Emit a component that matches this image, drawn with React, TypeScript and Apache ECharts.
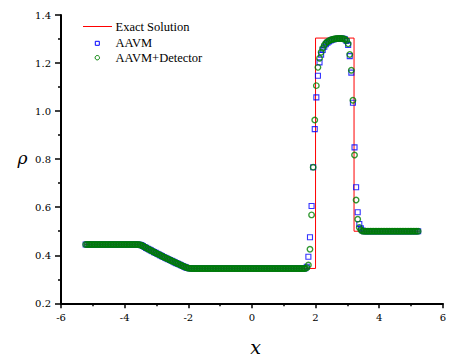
import React, { useEffect, useRef } from "react";
import * as echarts from "echarts";

// Mesh points of the numerical solution (cell centres)
const meshX = [
  -5.225, -5.175, -5.125, -5.075, -5.025, -4.975, -4.925, -4.875, -4.825, -4.775,
  -4.725, -4.675, -4.625, -4.575, -4.525, -4.475, -4.425, -4.375, -4.325, -4.275,
  -4.225, -4.175, -4.125, -4.075, -4.025, -3.975, -3.925, -3.875, -3.825, -3.775,
  -3.725, -3.675, -3.625, -3.575, -3.525, -3.475, -3.425, -3.375, -3.325, -3.275,
  -3.225, -3.175, -3.125, -3.075, -3.025, -2.975, -2.925, -2.875, -2.825, -2.775,
  -2.725, -2.675, -2.625, -2.575, -2.525, -2.475, -2.425, -2.375, -2.325, -2.275,
  -2.225, -2.175, -2.125, -2.075, -2.025, -1.975, -1.925, -1.875, -1.825, -1.775,
  -1.725, -1.675, -1.625, -1.575, -1.525, -1.475, -1.425, -1.375, -1.325, -1.275,
  -1.225, -1.175, -1.125, -1.075, -1.025, -0.975, -0.925, -0.875, -0.825, -0.775,
  -0.725, -0.675, -0.625, -0.575, -0.525, -0.475, -0.425, -0.375, -0.325, -0.275,
  -0.225, -0.175, -0.125, -0.075, -0.025, 0.025, 0.075, 0.125, 0.175, 0.225,
  0.275, 0.325, 0.375, 0.425, 0.475, 0.525, 0.575, 0.625, 0.675, 0.725,
  0.775, 0.825, 0.875, 0.925, 0.975, 1.025, 1.075, 1.125, 1.175, 1.225,
  1.275, 1.325, 1.375, 1.425, 1.475, 1.525, 1.575, 1.625, 1.675, 1.725,
  1.775, 1.825, 1.875, 1.925, 1.975, 2.025, 2.075, 2.125, 2.175, 2.225,
  2.275, 2.325, 2.375, 2.425, 2.475, 2.525, 2.575, 2.625, 2.675, 2.725,
  2.775, 2.825, 2.875, 2.925, 2.975, 3.025, 3.075, 3.125, 3.175, 3.225,
  3.275, 3.325, 3.375, 3.425, 3.475, 3.525, 3.575, 3.625, 3.675, 3.725,
  3.775, 3.825, 3.875, 3.925, 3.975, 4.025, 4.075, 4.125, 4.175, 4.225,
  4.275, 4.325, 4.375, 4.425, 4.475, 4.525, 4.575, 4.625, 4.675, 4.725,
  4.775, 4.825, 4.875, 4.925, 4.975, 5.025, 5.075, 5.125, 5.175, 5.225,
];

// Density on the first 130 mesh points (identical for both schemes)
const sharedRho = [
  0.445, 0.445, 0.445, 0.445, 0.445, 0.445, 0.445, 0.445, 0.445, 0.445,
  0.445, 0.445, 0.445, 0.445, 0.445, 0.445, 0.445, 0.445, 0.445, 0.445,
  0.445, 0.445, 0.445, 0.445, 0.445, 0.445, 0.445, 0.445, 0.445, 0.445,
  0.445, 0.445, 0.445, 0.4447, 0.4438, 0.442, 0.4382, 0.4344, 0.4308, 0.4273,
  0.4237, 0.4202, 0.4167, 0.4132, 0.4098, 0.4064, 0.403, 0.3996, 0.3963, 0.393,
  0.3897, 0.3865, 0.3832, 0.38, 0.3768, 0.3737, 0.3705, 0.3674, 0.3644, 0.3613,
  0.3583, 0.3553, 0.3524, 0.3496, 0.3472, 0.3459, 0.3453, 0.345, 0.345, 0.345,
  0.345, 0.345, 0.345, 0.345, 0.345, 0.345, 0.345, 0.345, 0.345, 0.345,
  0.345, 0.345, 0.345, 0.345, 0.345, 0.345, 0.345, 0.345, 0.345, 0.345,
  0.345, 0.345, 0.345, 0.345, 0.345, 0.345, 0.345, 0.345, 0.345, 0.345,
  0.345, 0.345, 0.345, 0.345, 0.345, 0.345, 0.345, 0.345, 0.345, 0.345,
  0.345, 0.345, 0.345, 0.345, 0.345, 0.345, 0.345, 0.345, 0.345, 0.345,
  0.345, 0.345, 0.345, 0.345, 0.345, 0.345, 0.345, 0.345, 0.345, 0.345,
];

// Remaining 80 mesh points, AAVM
const aavmTailRho = [
  0.345, 0.345, 0.345, 0.345, 0.345, 0.345, 0.345, 0.345, 0.346, 0.352,
  0.394, 0.475, 0.605, 0.766, 0.925, 1.057, 1.147, 1.203, 1.235, 1.255,
  1.268, 1.278, 1.285, 1.29, 1.294, 1.297, 1.299, 1.3, 1.301, 1.302,
  1.302, 1.302, 1.301, 1.299, 1.292, 1.275, 1.229, 1.16, 1.035, 0.849,
  0.683, 0.579, 0.53, 0.512, 0.503, 0.5, 0.5, 0.5, 0.5, 0.5,
  0.5, 0.5, 0.5, 0.5, 0.5, 0.5, 0.5, 0.5, 0.5, 0.5,
  0.5, 0.5, 0.5, 0.5, 0.5, 0.5, 0.5, 0.5, 0.5, 0.5,
  0.5, 0.5, 0.5, 0.5, 0.5, 0.5, 0.5, 0.5, 0.5, 0.5,
];

// Remaining 80 mesh points, AAVM+Detector
const detectorTailRho = [
  0.345, 0.345, 0.345, 0.345, 0.345, 0.345, 0.345, 0.345, 0.345, 0.348,
  0.359, 0.425, 0.568, 0.766, 0.963, 1.106, 1.182, 1.22, 1.245, 1.262,
  1.274, 1.283, 1.289, 1.293, 1.296, 1.298, 1.3, 1.301, 1.302, 1.302,
  1.302, 1.302, 1.301, 1.299, 1.294, 1.28, 1.236, 1.17, 1.045, 0.817,
  0.63, 0.55, 0.516, 0.505, 0.501, 0.5, 0.5, 0.5, 0.5, 0.5,
  0.5, 0.5, 0.5, 0.5, 0.5, 0.5, 0.5, 0.5, 0.5, 0.5,
  0.5, 0.5, 0.5, 0.5, 0.5, 0.5, 0.5, 0.5, 0.5, 0.5,
  0.5, 0.5, 0.5, 0.5, 0.5, 0.5, 0.5, 0.5, 0.5, 0.5,
];

// Exact solution (polyline vertices)
const exactX = [-5.25, -3.52, -3.14, -2.76, -2.38, -2.0, 2.0, 2.0, 3.21, 3.21, 5.25];
const exactRho = [0.445, 0.445, 0.4178, 0.392, 0.3678, 0.345, 0.345, 1.304, 1.304, 0.5, 0.5];

const xTicks = { min: -6, max: 6, step: 2 };
const yTicks = { min: 0.2, max: 1.4, step: 0.2 };

const seriesNames = ["Exact Solution", "AAVM", "AAVM+Detector"];

const TEXT_FONT = "Liberation Serif";
const NUM_FONT = "DejaVu Serif";
const RED = "#ff0000";
const BLUE = "#0000ff";
const GREEN = "#008000";

export default function App() {
  const ref = useRef<HTMLDivElement>(null);

  useEffect(() => {
    document.body.style.margin = "0";
    if (!ref.current) return;
    const chart = echarts.init(ref.current, undefined, { renderer: "svg" });

    const aavmRho = [...sharedRho, ...aavmTailRho];
    const detRho = [...sharedRho, ...detectorTailRho];
    const exactData = exactX.map((x, i) => [x, exactRho[i]]);
    const aavmData = meshX.map((x, i) => [x, aavmRho[i]]);
    const detData = meshX.map((x, i) => [x, detRho[i]]);

    const legendText = (text: string, y: number) => ({
      type: "text",
      x: 115.5,
      y,
      style: {
        text,
        fontFamily: TEXT_FONT,
        fontSize: 12.5,
        fill: "#000",
        verticalAlign: "middle",
      },
    });

    chart.setOption({
      animation: false,
      grid: { left: 61, top: 15, width: 389.7, height: 288.3, containLabel: false },
      xAxis: {
        type: "value",
        min: xTicks.min,
        max: xTicks.max,
        interval: xTicks.step,
        axisLine: { show: true, onZero: false, lineStyle: { color: "#000", width: 2 } },
        axisTick: { show: true, inside: false, length: 5, lineStyle: { color: "#000", width: 1.5 } },
        minorTick: { show: true, splitNumber: 2, length: 3, lineStyle: { color: "#000", width: 1.5 } },
        splitLine: { show: false },
        minorSplitLine: { show: false },
        axisLabel: { color: "#000", fontFamily: NUM_FONT, fontSize: 10, margin: 9.5 },
      },
      yAxis: {
        type: "value",
        min: yTicks.min,
        max: yTicks.max,
        interval: yTicks.step,
        axisLine: { show: true, onZero: false, lineStyle: { color: "#000", width: 2 } },
        axisTick: { show: true, inside: false, length: 6, lineStyle: { color: "#000", width: 1.5 } },
        minorTick: { show: true, splitNumber: 2, length: 3, lineStyle: { color: "#000", width: 1.5 } },
        splitLine: { show: false },
        minorSplitLine: { show: false },
        axisLabel: {
          color: "#000",
          fontFamily: NUM_FONT,
          fontSize: 10,
          margin: 10,
          formatter: (v: number) => v.toFixed(1),
        },
      },
      series: [
        {
          name: seriesNames[0],
          type: "line",
          data: exactData,
          showSymbol: false,
          symbol: "none",
          lineStyle: { color: RED, width: 1 },
          z: 1,
        },
        {
          name: seriesNames[1],
          type: "scatter",
          data: aavmData,
          symbol: "rect",
          symbolSize: 5,
          itemStyle: { color: "transparent", borderColor: BLUE, borderWidth: 1.1 },
          z: 2,
        },
        {
          name: seriesNames[2],
          type: "scatter",
          data: detData,
          symbol: "circle",
          symbolSize: 5.5,
          itemStyle: { color: "transparent", borderColor: GREEN, borderWidth: 1.4 },
          z: 3,
        },
      ],
      graphic: [
        { type: "line", shape: { x1: 83, y1: 26.5, x2: 112, y2: 26.5 }, style: { stroke: RED, lineWidth: 1 } },
        legendText(seriesNames[0], 27),
        {
          type: "rect",
          shape: { x: 95.3, y: 41.3, width: 4, height: 4 },
          style: { stroke: BLUE, fill: "none", lineWidth: 1 },
        },
        legendText(seriesNames[1], 43.3),
        {
          type: "circle",
          shape: { cx: 97.3, cy: 57.7, r: 2.2 },
          style: { stroke: GREEN, fill: "none", lineWidth: 1 },
        },
        legendText(seriesNames[2], 57.7),
        {
          type: "text",
          x: 255.7,
          y: 347,
          style: {
            text: "x",
            fontFamily: NUM_FONT,
            fontStyle: "italic",
            fontSize: 19,
            fill: "#000",
            align: "center",
            verticalAlign: "middle",
          },
        },
        {
          type: "text",
          x: 22.5,
          y: 158,
          style: {
            text: "ρ",
            fontFamily: NUM_FONT,
            fontStyle: "italic",
            fontSize: 17,
            fill: "#000",
            align: "center",
            verticalAlign: "middle",
          },
        },
      ],
    });

    return () => chart.dispose();
  }, []);

  return <div ref={ref} style={{ width: 449, height: 359 }} />;
}
